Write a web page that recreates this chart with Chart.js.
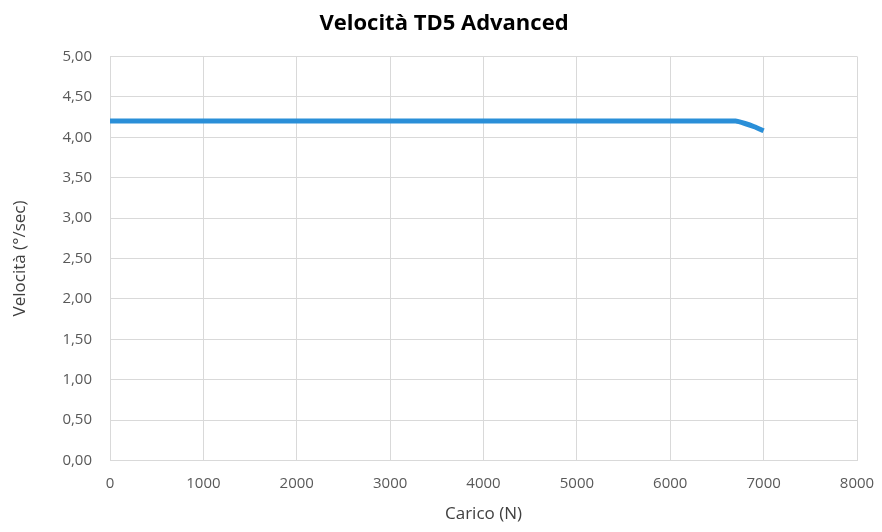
<!DOCTYPE html>
<html><head><meta charset="utf-8">
<script src="https://cdn.jsdelivr.net/npm/chart.js@4"></script>
<style>html,body{margin:0;padding:0;background:#fff}#wrap{width:882px;height:532px}</style>
</head><body><div id="wrap"><canvas id="c" width="882" height="532"></canvas></div>
<script>
const carico = [0, 1000, 2000, 3000, 4000, 5000, 6000, 6700, 6800, 6900, 7000];
const velocita = [4.2, 4.2, 4.2, 4.2, 4.2, 4.2, 4.2, 4.2, 4.17, 4.13, 4.08];
const titleText = 'Velocità TD5 Advanced';
const xTitle = 'Carico (N)';
const yTitle = 'Velocità (°/sec)';
const FONT = "'Open Sans', 'Noto Sans', sans-serif";
const grid = '#d9d9d9';
new Chart(document.getElementById('c'), {
  type: 'line',
  data: { datasets: [{
    data: carico.map((x, i) => ({ x, y: velocita[i] })),
    borderColor: '#2a8fd8', borderWidth: 5, pointRadius: 0, tension: 0.15, fill: false
  }]},
  options: {
    responsive: false, animation: false,
    layout: { padding: { left: 6, right: 0, top: 2, bottom: 4 } },
    plugins: {
      legend: { display: false },
      tooltip: { enabled: false },
      title: { display: true, text: titleText, color: '#000',
        font: { family: FONT, size: 22, weight: 'bold' }, padding: { top: 9, bottom: 19 } }
    },
    scales: {
      x: { type: 'linear', min: 0, max: 8000,
        afterFit: s => { s.paddingRight = 25; },
        ticks: { stepSize: 1000, color: '#595959', font: { family: FONT, size: 15 }, padding: 14,
          callback: v => String(v) },
        grid: { color: grid, drawTicks: false }, border: { color: grid },
        title: { display: true, text: xTitle, color: '#404040', font: { family: FONT, size: 17 }, padding: { top: -3, bottom: 4 } } },
      y: { min: 0, max: 5,
        ticks: { stepSize: 0.5, color: '#595959', font: { family: FONT, size: 15 }, padding: 18,
          callback: v => v.toFixed(2).replace('.', ',') },
        grid: { color: grid, drawTicks: false }, border: { color: grid },
        title: { display: true, text: yTitle, color: '#404040', font: { family: FONT, size: 17 }, padding: { bottom: 14 } } }
    }
  }
});
</script></body></html>
